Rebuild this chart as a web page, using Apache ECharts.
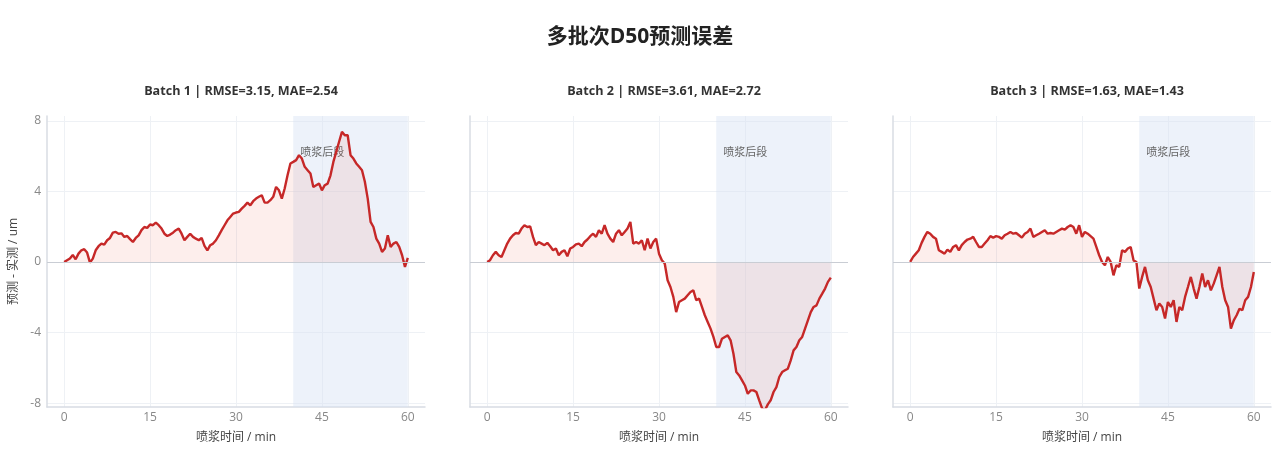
<!DOCTYPE html>
<html>
<head>
<meta charset="utf-8">
<script src="https://cdn.jsdelivr.net/npm/echarts@6/dist/echarts.min.js"></script>
<style>
html,body{margin:0;padding:0;background:#fff;}
#chart{width:1280px;height:461px;}
</style>
</head>
<body>
<div id="chart"></div>
<script>
// ---- data (minutes every 0.5 from 0 to 60) ----
const title = '多批次D50预测误差';
const subTitles = ['Batch 1 | RMSE=3.15, MAE=2.54', 'Batch 2 | RMSE=3.61, MAE=2.72', 'Batch 3 | RMSE=1.63, MAE=1.43'];
const xTicks = [0, 15, 30, 45, 60];
const yTicks = [-8, -4, 0, 4, 8];
const lateStart = 40, lateEnd = 60;
const lateLabel = '喷浆后段';
const xName = '喷浆时间 / min';
const yName = '预测 - 实测 / um';
const step = 0.5;

const batch1 = [
  0, 0.1, 0.2, 0.4, 0.15, 0.47, 0.66, 0.72, 0.53, -0.04,
  0.19, 0.66, 0.89, 1.04, 0.98, 1.23, 1.36, 1.66, 1.7, 1.6,
  1.62, 1.42, 1.47, 1.29, 1.13, 1.36, 1.51, 1.8, 1.98, 1.93,
  2.12, 2.08, 2.23, 2.08, 1.89, 1.6, 1.47, 1.55, 1.66, 1.8,
  1.89, 1.6, 1.23, 1.42, 1.6, 1.42, 1.32, 1.23, 1.36, 0.91,
  0.66, 0.95, 1.04, 1.23, 1.51, 1.8, 2.08, 2.36, 2.55, 2.74,
  2.8, 2.84, 3.02, 3.18, 3.36, 3.21, 3.44, 3.59, 3.69, 3.78,
  3.36, 3.36, 3.5, 3.69, 4.25, 4.06, 3.59, 4.16, 4.91, 5.58,
  5.67, 5.77, 6.05, 5.86, 5.39, 5.2, 5.01, 4.25, 4.35, 4.44,
  4.06, 4.35, 4.44, 4.91, 5.67, 6.24, 6.81, 7.37, 7.18, 7.18,
  6.05, 5.86, 5.58, 5.39, 5.2, 4.54, 3.59, 2.27, 1.98, 1.32,
  1.04, 0.57, 0.76, 1.51, 0.85, 1.04, 1.13, 0.85, 0.38, -0.28,
  0.23
];
const batch2 = [
  0, 0.1, 0.38, 0.57, 0.38, 0.28, 0.66, 1.04, 1.32, 1.51,
  1.64, 1.6, 1.89, 2.08, 1.98, 2.02, 1.42, 0.95, 1.13, 1.04,
  0.95, 1.08, 0.89, 0.66, 0.76, 0.38, 0.57, 0.66, 0.32, 0.76,
  0.85, 1.0, 1.04, 0.89, 1.13, 1.27, 1.46, 1.6, 1.42, 1.8,
  1.6, 2.08, 1.6, 1.32, 1.13, 1.6, 1.8, 1.51, 1.7, 1.89,
  2.27, 1.04, 1.13, 1.04, 1.23, 0.66, 1.32, 0.76, 1.13, 1.32,
  0.47, 0.1, -0.09, -1.04, -1.42, -1.98, -2.84, -2.27, -2.17, -2.08,
  -1.89, -1.7, -1.61, -2.17, -2.08, -2.55, -3.02, -3.4, -3.78, -4.25,
  -4.82, -4.82, -4.35, -4.25, -4.16, -4.44, -5.2, -6.24, -6.43, -6.71,
  -7.0, -7.47, -7.28, -7.28, -7.37, -7.84, -8.3, -8.4, -8.07, -7.84,
  -7.37, -7.09, -6.52, -6.24, -6.14, -6.05, -5.58, -5.01, -4.82, -4.44,
  -4.25, -3.78, -3.31, -2.84, -2.55, -2.46, -2.08, -1.8, -1.51, -1.13,
  -0.89
];
const batch3 = [
  0, 0.28, 0.47, 0.66, 1.08, 1.42, 1.7, 1.6, 1.42, 1.32,
  0.66, 0.57, 0.47, 0.7, 0.57, 0.85, 0.95, 0.66, 0.95, 1.13,
  1.27, 1.32, 1.42, 1.13, 0.85, 0.85, 1.04, 1.23, 1.46, 1.38,
  1.46, 1.42, 1.32, 1.51, 1.6, 1.7, 1.6, 1.64, 1.51, 1.38,
  1.6, 1.7, 1.89, 1.42, 1.51, 1.6, 1.7, 1.8, 1.6, 1.64,
  1.6, 1.7, 1.8, 1.89, 1.83, 1.98, 2.08, 1.98, 1.6, 2.08,
  1.42, 1.7, 1.6, 1.46, 1.32, 0.85, 0.38, 0, -0.19, 0.28,
  0, -0.76, -0.19, -0.28, 0.66, 0.57, 0.76, 0.85, 0.09, 0,
  -1.51, -0.85, -0.28, -1.04, -1.42, -2.08, -2.74, -2.36, -2.55, -3.21,
  -2.27, -2.55, -2.17, -3.4, -2.55, -2.74, -1.98, -1.42, -0.85, -1.51,
  -2.08, -1.42, -0.66, -1.42, -1.04, -1.61, -1.23, -0.76, -0.28, -1.42,
  -2.17, -2.55, -3.78, -3.31, -3.02, -2.65, -2.74, -2.17, -1.98, -1.42,
  -0.57
];
const batches = [batch1, batch2, batch3];

// ---- layout ----
const gridLefts = [47, 470, 893];
const gridWidth = 378;
const gridTop = 116, gridHeight = 291;
const FONT = "'Open Sans', 'Noto Sans CJK SC', sans-serif";

const chart = echarts.init(document.getElementById('chart'));
const grids = [], xAxes = [], yAxes = [], series = [], titles = [];

titles.push({
  text: title, left: 'center', top: 22,
  textStyle: { fontFamily: FONT, fontSize: 21, fontWeight: 'bold', color: '#222' }
});

batches.forEach((vals, i) => {
  grids.push({ left: gridLefts[i], top: gridTop, width: gridWidth, height: gridHeight, containLabel: false });
  titles.push({
    text: subTitles[i],
    left: gridLefts[i] + gridWidth / 2, top: 80, textAlign: 'center',
    textStyle: { fontFamily: FONT, fontSize: 12.6, fontWeight: 'bold', color: '#333' }
  });
  xAxes.push({
    type: 'value', gridIndex: i, min: -3, max: 63,
    name: xName, nameLocation: 'middle', nameGap: 25,
    nameTextStyle: { fontFamily: FONT, fontSize: 12, color: '#444' },
    axisLine: { show: true, onZero: false, lineStyle: { color: '#d8dce3', width: 1.5 } },
    axisTick: { show: false, customValues: xTicks },
    axisLabel: { customValues: xTicks, color: '#888', fontFamily: FONT, fontSize: 12, margin: 5 },
    splitLine: { show: true, lineStyle: { color: '#eef1f5', width: 1 } }
  });
  yAxes.push({
    type: 'value', gridIndex: i, min: -8.22, max: 8.27,
    name: i === 0 ? yName : '', nameLocation: 'middle', nameGap: 27, nameRotate: 90,
    nameTextStyle: { fontFamily: FONT, fontSize: 12, color: '#444' },
    axisLine: { show: true, onZero: false, lineStyle: { color: '#d8dce3', width: 1.5 } },
    axisTick: { show: false, customValues: yTicks },
    axisLabel: { show: i === 0, customValues: yTicks, color: '#888', fontFamily: FONT, fontSize: 12, margin: 6 },
    splitLine: { show: true, lineStyle: { color: '#eef1f5', width: 1 } }
  });
  // background band (late spraying stage), drawn beneath the curve
  series.push({
    type: 'line', xAxisIndex: i, yAxisIndex: i, data: [], z: 1,
    markArea: {
      silent: true,
      itemStyle: { color: 'rgba(214, 226, 245, 0.45)' },
      label: {
        show: true, position: 'insideTopLeft', distance: 5, offset: [2, 26],
        color: '#666', fontFamily: FONT, fontSize: 11
      },
      data: [[{ xAxis: lateStart, name: lateLabel }, { xAxis: lateEnd }]]
    }
  });
  const data = vals.map((v, k) => [k * step, v]);
  series.push({
    type: 'line', xAxisIndex: i, yAxisIndex: i, data: data,
    showSymbol: false, symbol: 'none', clip: true,
    lineStyle: { color: '#c62828', width: 2.4 },
    areaStyle: { color: 'rgba(232, 90, 75, 0.15)', origin: 0 },
    z: 3,
    markLine: {
      silent: true, symbol: 'none', label: { show: false },
      lineStyle: { color: '#c9cdd4', width: 1.2, type: 'solid' },
      data: [{ yAxis: 0 }]
    }
  });
});

chart.setOption({
  backgroundColor: '#ffffff',
  animation: false,
  title: titles,
  grid: grids,
  xAxis: xAxes,
  yAxis: yAxes,
  series: series
});
</script>
</body>
</html>
